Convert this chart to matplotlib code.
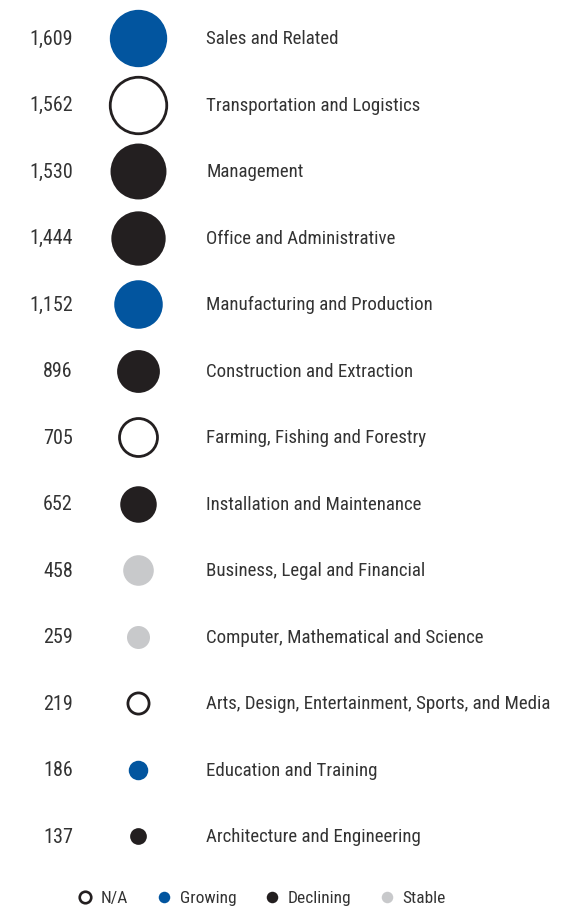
import numpy as np
import matplotlib
matplotlib.use("Agg")
import matplotlib.pyplot as plt
from matplotlib.lines import Line2D

# === Data ===
categories = [
    "Sales and Related",
    "Transportation and Logistics",
    "Management",
    "Office and Administrative",
    "Manufacturing and Production",
    "Construction and Extraction",
    "Farming, Fishing and Forestry",
    "Installation and Maintenance",
    "Business, Legal and Financial",
    "Computer, Mathematical and Science",
    "Arts, Design, Entertainment, Sports, and Media",
    "Education and Training",
    "Architecture and Engineering",
]
values = [1609, 1562, 1530, 1444, 1152, 896, 705, 652, 458, 259, 219, 186, 137]
status = ["Growing", "N/A", "Declining", "Declining", "Growing", "Declining", "N/A",
          "Declining", "Stable", "Stable", "N/A", "Growing", "Declining"]
legend_order = ["N/A", "Growing", "Declining", "Stable"]

BLUE = "#02559f"
BLACK = "#231f20"
GREY = "#c8c9cb"
TEXT = "#333333"
styles = {
    "N/A": dict(facecolor="white", edgecolor=BLACK),
    "Growing": dict(facecolor=BLUE, edgecolor=BLUE),
    "Declining": dict(facecolor=BLACK, edgecolor=BLACK),
    "Stable": dict(facecolor=GREY, edgecolor=GREY),
}

plt.rcParams['font.family'] = ['Roboto Condensed', 'DejaVu Sans']

fig = plt.figure(figsize=(5.76, 9.09), dpi=100)
ax = fig.add_axes([0, 0, 1, 1])
ax.set_xlim(0, 576)
row_step = 66.5
ax.set_ylim((909 - 38) / row_step, -38 / row_step)
ax.axis("off")

rows = np.arange(len(categories))
for i, (cat, val, st) in enumerate(zip(categories, values, status)):
    st_kw = styles[st]
    lw = 2.0 if st == "N/A" else 0
    ax.scatter(138, rows[i], s=val * 1.06, linewidths=lw, zorder=3, **st_kw)
    # text sits a hair low so glyphs look centred on the bubble
    ax.text(73, rows[i] + 0.02, f"{val:,}", ha="right", va="center",
            fontsize=14.5, color=TEXT)
    ax.text(206, rows[i] + 0.02, cat, ha="left", va="center",
            fontsize=13.6, color=TEXT)

# === Legend ===
handles = []
for name in legend_order:
    st_kw = styles[name]
    handles.append(Line2D([], [], linestyle="none", marker="o", markersize=8.3,
                          markerfacecolor=st_kw["facecolor"],
                          markeredgecolor=st_kw["edgecolor"],
                          markeredgewidth=1.9 if name == "N/A" else 0,
                          label=name))
fig.legend(handles=handles, loc="center", bbox_to_anchor=(0.455, 0.0121), ncol=4,
           frameon=False, fontsize=12.5, handlelength=0.8, handletextpad=0.5,
           columnspacing=1.65, labelcolor=TEXT, borderpad=0)

fig.savefig("out.png", dpi=100)
